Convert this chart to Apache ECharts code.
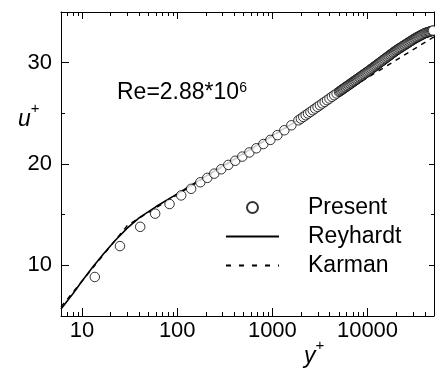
<!DOCTYPE html>
<html>
<head>
<meta charset="utf-8">
<script src="https://cdn.jsdelivr.net/npm/echarts@6/dist/echarts.min.js"></script>
<style>
  html, body { margin: 0; padding: 0; background: #fff; }
  #chart { width: 435px; height: 370px; }
</style>
</head>
<body>
<div id="chart"></div>
<script>
// Present (circles): y+ and u+
const presentY = [13.6, 25, 40.8, 58.6, 83, 110, 140, 175,
  207, 245, 290, 344, 407, 483, 573, 678, 804, 953,
  1130, 1337, 1585, 1879,
  1995, 2113, 2239, 2371, 2512, 2661, 2818, 2985, 3162, 3350, 3548, 3758, 3981, 4217, 4467, 4732, 5012,
  5129, 5248, 5370, 5495, 5623, 5754, 5888, 6026, 6166, 6310, 6457, 6607, 6761, 6918, 7079,
  7244, 7413, 7586, 7762, 7943, 8128, 8318, 8511, 8710, 8913, 9120, 9333, 9550, 9772, 10000,
  10230, 10470, 10720, 10960, 11220, 11480, 11750, 12020, 12300, 12590, 12880, 13180, 13490, 13800, 14130,
  14450, 14790, 15140, 15490, 15850, 16220, 16600, 16980, 17380, 17780, 18200, 18620, 19050, 19500, 19950,
  20420, 20890, 21380, 21880, 22390, 22910, 23440, 23990, 24550, 25120, 25700, 26300, 26920, 27540, 28180,
  28840, 29510, 30200, 30900, 31620, 32360, 33110, 33880, 34670, 35480, 36310, 37150, 38020, 38900, 39810,
  40740, 41690, 42660, 43650, 44670, 45710, 46770, 47860, 48980];
const presentU = [8.85, 11.9, 13.8, 15.1, 16.05, 16.9, 17.55, 18.2,
  18.63, 19.05, 19.48, 19.91, 20.32, 20.73, 21.14, 21.55, 21.97, 22.38,
  22.85, 23.33, 23.82, 24.31,
  24.48, 24.65, 24.81, 24.98, 25.14, 25.31, 25.47, 25.64, 25.8, 25.97, 26.13, 26.3, 26.46, 26.63, 26.79, 26.96, 27.12,
  27.19, 27.25, 27.32, 27.38, 27.45, 27.52, 27.58, 27.65, 27.71, 27.78, 27.85, 27.91, 27.98, 28.04, 28.11,
  28.18, 28.24, 28.31, 28.37, 28.44, 28.51, 28.57, 28.64, 28.70, 28.77, 28.84, 28.90, 28.97, 29.03, 29.10,
  29.17, 29.24, 29.31, 29.38, 29.45, 29.52, 29.59, 29.66, 29.73, 29.80, 29.87, 29.94, 30.01, 30.08, 30.15,
  30.22, 30.29, 30.36, 30.43, 30.50, 30.57, 30.64, 30.71, 30.78, 30.85, 30.92, 30.99, 31.06, 31.13, 31.20,
  31.26, 31.32, 31.38, 31.44, 31.50, 31.56, 31.62, 31.68, 31.74, 31.80, 31.86, 31.92, 31.98, 32.04, 32.10,
  32.16, 32.22, 32.28, 32.34, 32.40, 32.45, 32.50, 32.55, 32.60, 32.65, 32.70, 32.75, 32.80, 32.85, 32.90,
  32.93, 32.96, 32.99, 33.02, 33.05, 33.08, 33.11, 33.14, 33.17];

// Reyhardt (solid)
const reyY = [6, 8, 10, 13, 17, 22, 30, 40, 60, 100, 200, 500, 1000, 3000, 10000];
const reyU = [5.7, 7.2, 8.45, 9.85, 11.2, 12.4, 13.7, 14.7, 15.8, 17.05, 18.8, 21.05, 22.8, 25.5, 28.6];

// Karman (dashed)
const karY = [6, 30, 50000];
const karU = [5.9, 13.95, 32.55];

// ticks
const xMajor = [10, 100, 1000, 10000];
const xMinor = [6, 7, 8, 9, 20, 30, 40, 50, 60, 70, 80, 90,
  200, 300, 400, 500, 600, 700, 800, 900,
  2000, 3000, 4000, 5000, 6000, 7000, 8000, 9000,
  20000, 30000, 40000];
const yMajor = [10, 20, 30];
const yMinor = [15, 25];

const FONT = 'Liberation Sans, Arial, sans-serif';
const zip = (xs, ys) => xs.map((x, i) => [x, ys[i]]);

const xAxisOf = (pos, ticks, len, withLine, withLabel) => ({
  type: 'log', logBase: 10, min: 6, max: 50000, position: pos,
  axisLine: { show: withLine, onZero: false, lineStyle: { color: '#000', width: 1 } },
  axisTick: { show: true, inside: true, length: len, customValues: ticks, lineStyle: { color: '#000', width: 1 } },
  axisLabel: withLabel ? {
    customValues: xMajor, margin: 4, color: '#000', fontSize: 22, fontFamily: FONT,
    formatter: (v) => String(Math.round(v))
  } : { show: false },
  splitLine: { show: false }
});

const yAxisOf = (pos, ticks, len, withLine, withLabel) => ({
  type: 'value', min: 5, max: 35, position: pos,
  axisLine: { show: withLine, onZero: false, lineStyle: { color: '#000', width: 1 } },
  axisTick: { show: true, inside: true, length: len, customValues: ticks, lineStyle: { color: '#000', width: 1 } },
  axisLabel: withLabel ? {
    customValues: yMajor, margin: 9, color: '#000', fontSize: 22, fontFamily: FONT
  } : { show: false },
  splitLine: { show: false }
});

const hiddenDot = { color: 'rgba(0,0,0,0)', borderColor: 'rgba(0,0,0,0)', borderWidth: 0, opacity: 0 };

const chart = echarts.init(document.getElementById('chart'));

chart.setOption({
  animation: false,
  backgroundColor: '#fff',
  grid: { left: 61, right: 1, top: 12, bottom: 54 },
  xAxis: [
    xAxisOf('bottom', xMajor, 8, true, true),
    xAxisOf('bottom', xMinor, 4, false, false),
    xAxisOf('top', xMajor, 7, true, false),
    xAxisOf('top', xMinor, 4, false, false)
  ],
  yAxis: [
    yAxisOf('left', yMajor, 8, true, true),
    yAxisOf('left', yMinor, 4, false, false),
    yAxisOf('right', yMajor, 5, true, false),
    yAxisOf('right', yMinor, 3, false, false)
  ],
  legend: {
    orient: 'vertical',
    left: 225,
    top: 196,
    padding: 0,
    itemWidth: 53,
    itemHeight: 11,
    itemGap: 6,
    data: [
      'Present',
      { name: 'Reyhardt', itemStyle: hiddenDot },
      { name: 'Karman', itemStyle: hiddenDot, lineStyle: { type: [5, 8] } }
    ],
    textStyle: { color: '#000', fontSize: 23, fontFamily: FONT, padding: [0, 0, 0, 24] }
  },
  graphic: [
    {
      type: 'text', left: 117, top: 81,
      style: {
        text: 'Re=2.88*10{s|6}', fill: '#000', fontSize: 23, fontFamily: FONT,
        rich: { s: { fontSize: 14, fontFamily: FONT, fill: '#000', verticalAlign: 'top' } }
      }
    },
    {
      type: 'text', left: 18, top: 101,
      style: {
        text: '{u|u}{s|+}', fill: '#000',
        rich: {
          u: { fontSize: 23, fontStyle: 'italic', fontFamily: FONT, fill: '#000', padding: [7, 0, 0, 0] },
          s: { fontSize: 15, fontFamily: FONT, fill: '#000', verticalAlign: 'top' }
        }
      }
    },
    {
      type: 'text', left: 304, top: 338,
      style: {
        text: '{u|y}{s|+}', fill: '#000',
        rich: {
          u: { fontSize: 23, fontStyle: 'italic', fontFamily: FONT, fill: '#000', padding: [7, 0, 0, 0] },
          s: { fontSize: 15, fontFamily: FONT, fill: '#000', verticalAlign: 'top' }
        }
      }
    }
  ],
  series: [
    {
      name: 'Reyhardt', type: 'line', data: zip(reyY, reyU),
      symbol: 'none', z: 2,
      itemStyle: { color: '#000' },
      lineStyle: { color: '#000', width: 1.6 }
    },
    {
      name: 'Karman', type: 'line', data: zip(karY, karU),
      symbol: 'none', z: 2,
      itemStyle: { color: '#000' },
      lineStyle: { color: '#000', width: 1.4, type: [5, 5] }
    },
    {
      name: 'Present', type: 'scatter', data: zip(presentY, presentU),
      symbol: 'circle', symbolSize: 9.5, z: 3,
      itemStyle: { color: '#fff', borderColor: '#000', borderWidth: 1 }
    }
  ]
});
</script>
</body>
</html>
